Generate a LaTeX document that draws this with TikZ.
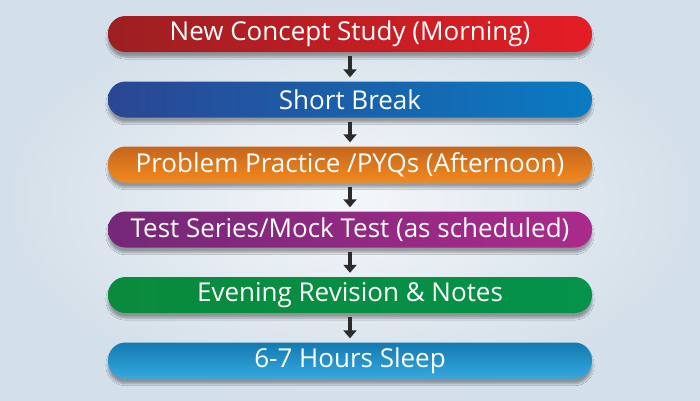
\documentclass[tikz,border=0pt]{standalone}
\usepackage{fontspec}
\setmainfont{Open Sans}
\usetikzlibrary{shadows.blur,arrows.meta}
\definecolor{bgin}{HTML}{F4F7FA}
\definecolor{bgout}{HTML}{D3DFE9}
\definecolor{redL}{HTML}{9C1F22}
\definecolor{redR}{HTML}{E51D25}
\definecolor{bluL}{HTML}{2A4694}
\definecolor{bluR}{HTML}{0A7BC2}
\definecolor{orT}{HTML}{C6661C}
\definecolor{orB}{HTML}{F28A1E}
\definecolor{puL}{HTML}{742878}
\definecolor{puR}{HTML}{AB2A8C}
\definecolor{grL}{HTML}{0A8A3C}
\definecolor{grR}{HTML}{05924A}
\definecolor{skT}{HTML}{137AB0}
\definecolor{skB}{HTML}{35A9E0}
\definecolor{arr}{HTML}{2B2B2B}
\tikzset{
  bar/.style={rounded corners=17.5pt, minimum width=484pt, minimum height=36pt,
    inner sep=0pt, text=white, font=\fontsize{26}{28}\selectfont,
    blur shadow={shadow xshift=0pt, shadow yshift=-5pt, shadow blur steps=8, shadow opacity=35, shadow blur extra rounding=4pt}},
  hbar/.style 2 args={bar, left color=#1, right color=#2},
  vbar/.style 2 args={bar, top color=#1, bottom color=#2},
  flow/.style={arr, line width=4pt, -{Triangle[width=13pt,length=8pt]}, shorten <=4pt, shorten >=4pt}
}
\begin{document}
\begin{tikzpicture}[x=1pt,y=-1pt]
\useasboundingbox (0,0) rectangle (700,400);
\shade[inner color=bgin, outer color=bgout] (0,0) rectangle (700,400);
\node[hbar={redL}{redR}] (n1) at (350,34) {New Concept Study (Morning)};
\node[hbar={bluL}{bluR}] (n2) at (350,99.5) {Short Break};
\node[vbar={orT}{orB}] (n3) at (350,164.5) {Problem Practice /PYQs (Afternoon)};
\node[hbar={puL}{puR}] (n4) at (350,229.5) {Test Series/Mock Test (as scheduled)};
\node[hbar={grL}{grR}] (n5) at (350,295) {Evening Revision \& Notes};
\node[vbar={skT}{skB}] (n6) at (350,360.5) {6-7 Hours Sleep};
\draw[flow] (n1) -- (n2);
\draw[flow] (n2) -- (n3);
\draw[flow] (n3) -- (n4);
\draw[flow] (n4) -- (n5);
\draw[flow] (n5) -- (n6);
\end{tikzpicture}
\end{document}
